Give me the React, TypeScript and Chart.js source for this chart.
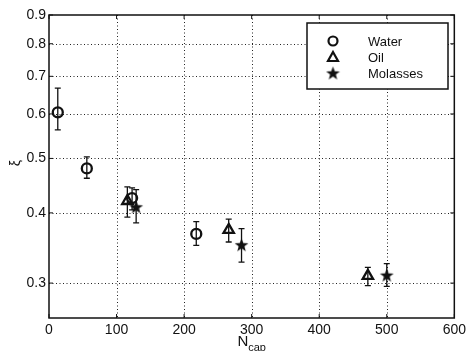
import React, { useEffect, useRef } from "react";
import { Chart, registerables } from "chart.js";

Chart.register(...registerables);

// ---- data ----
const seriesLabels = ["Water", "Oil", "Molasses"];

const waterX = [13, 56, 123, 218];
const waterY = [0.604, 0.48, 0.425, 0.367];
const waterLo = [0.562, 0.461, 0.405, 0.35];
const waterHi = [0.667, 0.503, 0.443, 0.386];

const oilX = [116, 266, 472];
const oilY = [0.42, 0.373, 0.309];
const oilLo = [0.393, 0.355, 0.297];
const oilHi = [0.445, 0.39, 0.32];

const molX = [129, 285, 500];
const molY = [0.41, 0.351, 0.31];
const molLo = [0.384, 0.327, 0.296];
const molHi = [0.44, 0.375, 0.325];

const xTicks = [0, 100, 200, 300, 400, 500, 600];
const yTicks = [0.3, 0.4, 0.5, 0.6, 0.7, 0.8, 0.9];

const FONT = "'Liberation Sans', Arial, sans-serif";
const INK = "#111";

function makeStar(size: number): HTMLCanvasElement {
  const c = document.createElement("canvas");
  c.width = size;
  c.height = size;
  const g = c.getContext("2d")!;
  const cx = size / 2, cy = size / 2 + 0.6;
  const R = size / 2 - 0.3, r = R * 0.42;
  g.beginPath();
  for (let i = 0; i < 10; i++) {
    const rad = i % 2 === 0 ? R : r;
    const a = -Math.PI / 2 + (i * Math.PI) / 5;
    const px = cx + rad * Math.cos(a), py = cy + rad * Math.sin(a);
    if (i === 0) g.moveTo(px, py); else g.lineTo(px, py);
  }
  g.closePath();
  g.fillStyle = INK;
  g.fill();
  return c;
}

function pts(xs: number[], ys: number[]) {
  return xs.map((x, i) => ({ x, y: ys[i] }));
}

export default function App() {
  const ref = useRef<HTMLCanvasElement | null>(null);

  useEffect(() => {
    if (!ref.current) return;
    const star = makeStar(15);
    const lows = [waterLo, oilLo, molLo];
    const highs = [waterHi, oilHi, molHi];
    const xsAll = [waterX, oilX, molX];

    const gridAndBars = {
      id: "gridAndBars",
      beforeDatasetsDraw(chart: any) {
        const ctx = chart.ctx;
        const a = chart.chartArea;
        const xs = chart.scales.x, ys = chart.scales.y;
        ctx.save();
        // dotted grid
        ctx.strokeStyle = "#222";
        ctx.lineWidth = 1;
        ctx.setLineDash([1, 2.5]);
        ctx.beginPath();
        xTicks.slice(1, -1).forEach((v) => {
          const p = Math.round(xs.getPixelForValue(v)) + 0.5;
          ctx.moveTo(p, a.top);
          ctx.lineTo(p, a.bottom);
        });
        yTicks.slice(0, -1).forEach((v) => {
          const p = Math.round(ys.getPixelForValue(v)) + 0.5;
          ctx.moveTo(a.left, p);
          ctx.lineTo(a.right, p);
        });
        ctx.stroke();
        ctx.setLineDash([]);
        // error bars
        ctx.strokeStyle = INK;
        ctx.lineWidth = 1.3;
        xsAll.forEach((arr, d) => {
          arr.forEach((xv, i) => {
            const px = xs.getPixelForValue(xv);
            const pl = ys.getPixelForValue(lows[d][i]);
            const ph = ys.getPixelForValue(highs[d][i]);
            ctx.beginPath();
            ctx.moveTo(px, pl);
            ctx.lineTo(px, ph);
            ctx.moveTo(px - 3, pl);
            ctx.lineTo(px + 3, pl);
            ctx.moveTo(px - 3, ph);
            ctx.lineTo(px + 3, ph);
            ctx.stroke();
          });
        });
        ctx.restore();
      },
    };

    const frame = {
      id: "frame",
      afterDraw(chart: any) {
        const ctx = chart.ctx;
        const a = chart.chartArea;
        const xs = chart.scales.x, ys = chart.scales.y;
        ctx.save();
        ctx.strokeStyle = INK;
        ctx.lineWidth = 1.5;
        ctx.strokeRect(a.left, a.top, a.right - a.left, a.bottom - a.top);
        ctx.lineWidth = 1;
        ctx.beginPath();
        xTicks.forEach((v) => {
          const p = xs.getPixelForValue(v);
          ctx.moveTo(p, a.bottom); ctx.lineTo(p, a.bottom - 4);
          ctx.moveTo(p, a.top); ctx.lineTo(p, a.top + 4);
        });
        yTicks.forEach((v) => {
          const p = ys.getPixelForValue(v);
          ctx.moveTo(a.left, p); ctx.lineTo(a.left + 4, p);
          ctx.moveTo(a.right, p); ctx.lineTo(a.right - 4, p);
        });
        ctx.stroke();

        // axis titles
        ctx.fillStyle = INK;
        ctx.textBaseline = "alphabetic";
        ctx.textAlign = "left";
        ctx.font = `15px ${FONT}`;
        const nW = ctx.measureText("N").width;
        ctx.font = `11px ${FONT}`;
        const sW = ctx.measureText("cap").width;
        const start = (a.left + a.right) / 2 - (nW + sW) / 2;
        ctx.font = `15px ${FONT}`;
        ctx.fillText("N", start, 346);
        ctx.font = `11px ${FONT}`;
        ctx.fillText("cap", start + nW, 351);

        ctx.save();
        ctx.translate(20, 163);
        ctx.rotate(-Math.PI / 2);
        ctx.textAlign = "center";
        ctx.font = `14px ${FONT}`;
        ctx.fillText("ξ", 0, 0);
        ctx.restore();

        // legend
        const lx = 307, ly = 23, lw = 141, lh = 66;
        ctx.fillStyle = "#fff";
        ctx.fillRect(lx, ly, lw, lh);
        ctx.strokeStyle = INK;
        ctx.lineWidth = 1.5;
        ctx.strokeRect(lx, ly, lw, lh);
        const rows = [41, 57, 73];
        const mx = 333;
        ctx.lineWidth = 2.2;
        ctx.beginPath();
        ctx.arc(mx, rows[0], 4.5, 0, Math.PI * 2);
        ctx.stroke();
        ctx.beginPath();
        ctx.moveTo(mx, rows[1] - 5);
        ctx.lineTo(mx + 5, rows[1] + 4);
        ctx.lineTo(mx - 5, rows[1] + 4);
        ctx.closePath();
        ctx.stroke();
        ctx.drawImage(star, mx - 7.5, rows[2] - 7.5);
        ctx.fillStyle = INK;
        ctx.font = `13px ${FONT}`;
        ctx.textAlign = "left";
        ctx.textBaseline = "middle";
        seriesLabels.forEach((t, i) => ctx.fillText(t, 368, rows[i] + 1));
        ctx.restore();
      },
    };

    const chart = new Chart(ref.current, {
      type: "scatter",
      data: {
        datasets: [
          {
            label: seriesLabels[0],
            data: pts(waterX, waterY),
            pointStyle: "circle",
            pointRadius: 5,
            borderWidth: 2.3,
            borderColor: INK,
            backgroundColor: "transparent",
          },
          {
            label: seriesLabels[1],
            data: pts(oilX, oilY),
            pointStyle: "triangle",
            pointRadius: 6,
            borderWidth: 2.3,
            borderColor: INK,
            backgroundColor: "transparent",
          },
          {
            label: seriesLabels[2],
            data: pts(molX, molY),
            pointStyle: star,
            pointRadius: 7,
            borderColor: INK,
            backgroundColor: INK,
          },
        ],
      },
      options: {
        animation: false,
        responsive: false,
        devicePixelRatio: 1,
        layout: { padding: { top: 15, right: 12, left: 0, bottom: 0 } },
        plugins: { legend: { display: false }, tooltip: { enabled: false } },
        scales: {
          x: {
            type: "linear",
            min: 0,
            max: 600,
            afterBuildTicks: (s: any) => {
              s.ticks = xTicks.map((v) => ({ value: v }));
            },
            afterFit: (s: any) => {
              s.height = 33;
            },
            border: { display: false },
            grid: { display: false, drawTicks: false },
            ticks: {
              padding: 4,
              color: INK,
              font: { family: FONT, size: 14 },
            },
          },
          y: {
            type: "logarithmic",
            min: 0.26,
            max: 0.9,
            afterBuildTicks: (s: any) => {
              s.ticks = yTicks.map((v) => ({ value: v }));
            },
            afterFit: (s: any) => {
              s.width = 49;
            },
            border: { display: false },
            grid: { display: false, drawTicks: false },
            ticks: {
              padding: 3,
              color: INK,
              font: { family: FONT, size: 14 },
              callback: (v: any) => Number(v).toFixed(1),
            },
          },
        },
      } as any,
      plugins: [gridAndBars, frame],
    });
    return () => chart.destroy();
  }, []);

  return (
    <div style={{ position: "absolute", left: 0, top: 0, width: 470, height: 351, background: "#fff" }}>
      <canvas ref={ref} width={470} height={351} />
    </div>
  );
}
